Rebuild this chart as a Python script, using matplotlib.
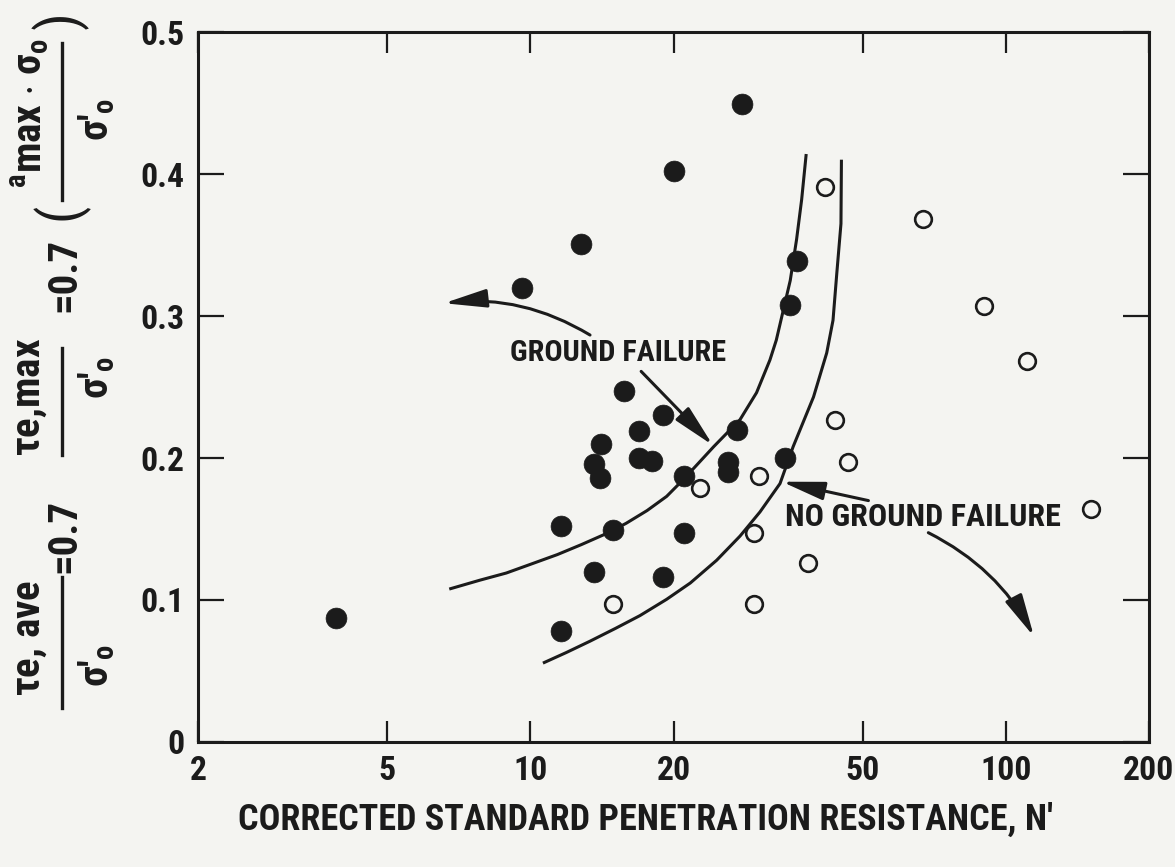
import matplotlib
matplotlib.use('Agg')
import matplotlib.pyplot as plt
import matplotlib.font_manager as fm
from matplotlib.patches import FancyArrowPatch
from matplotlib.lines import Line2D


def choose_font():
    entries = fm.fontManager.ttflist
    names = {e.name for e in entries}
    for p in ['Liberation Sans Narrow', 'Roboto Condensed', 'Open Sans Condensed',
              'Noto Sans Condensed', 'DejaVu Sans Condensed', 'Arial Narrow']:
        if p in names:
            return p, 'normal'
    for fam in ['DejaVu Sans', 'Noto Sans', 'Open Sans', 'Roboto', 'Liberation Sans']:
        for e in entries:
            if e.name == fam and str(e.stretch) in ('condensed', 'semi-condensed',
                                                    'extra-condensed'):
                return fam, str(e.stretch)
    return 'Roboto', 'normal'


FAM, STRETCH = choose_font()
plt.rcParams['font.family'] = [FAM, 'DejaVu Sans']
plt.rcParams['font.weight'] = 'bold'
plt.rcParams['font.stretch'] = STRETCH
pat = f'{FAM}:bold' + ('' if STRETCH == 'normal' else f':{STRETCH}')
plt.rcParams['mathtext.fontset'] = 'custom'
for k in ('rm', 'it', 'bf', 'sf'):
    plt.rcParams[f'mathtext.{k}'] = pat

INK = '#1b1b1b'
BG = '#f4f4f1'

# ---------------- data ----------------
failure_n = [3.9, 9.6, 12.8, 20.0, 27.9, 36.4, 35.2, 15.7, 19.0, 27.2, 16.9, 14.1, 13.6,
             14.0, 16.9, 18.0, 21.0, 26.0, 26.0, 34.3, 11.6, 14.9, 21.0, 13.6, 19.0, 11.6]
failure_ratio = [0.087, 0.320, 0.351, 0.402, 0.449, 0.339, 0.308, 0.247, 0.230, 0.220, 0.219,
                 0.210, 0.196, 0.186, 0.200, 0.198, 0.187, 0.197, 0.190, 0.200, 0.152, 0.149,
                 0.147, 0.120, 0.116, 0.078]

nofailure_n = [14.9, 22.7, 29.6, 29.6, 30.2, 38.4, 41.7, 43.7, 46.5, 66.9, 90.1, 111.0, 151.0]
nofailure_ratio = [0.097, 0.179, 0.147, 0.097, 0.187, 0.126, 0.391, 0.227, 0.197, 0.368,
                   0.307, 0.268, 0.164]

upper_n = [6.8, 7.84, 8.9, 9.98, 11.4, 12.8, 14.5, 15.9, 17.6, 19.35, 21.0, 24.3, 27.6, 29.9,
           31.9, 32.9, 35.2, 36.3, 37.2, 38.0]
upper_ratio = [0.108, 0.114, 0.119, 0.125, 0.132, 0.139, 0.147, 0.154, 0.163, 0.173, 0.185,
               0.208, 0.227, 0.246, 0.269, 0.283, 0.325, 0.354, 0.382, 0.413]

lower_n = [10.7, 11.9, 13.35, 15.1, 17.0, 19.35, 21.7, 24.65, 27.6, 30.4, 33.5, 35.7, 39.4,
           42.0, 43.3, 44.1, 45.0, 45.1]
lower_ratio = [0.056, 0.063, 0.071, 0.080, 0.089, 0.1005, 0.112, 0.128, 0.145, 0.162, 0.182,
               0.208, 0.243, 0.274, 0.297, 0.330, 0.365, 0.409]

x_ticks = [2, 5, 10, 20, 50, 100, 200]
x_tick_labels = ['2', '5', '10', '20', '50', '100', '200']
y_ticks = [0, 0.1, 0.2, 0.3, 0.4, 0.5]
y_tick_labels = ['0', '0.1', '0.2', '0.3', '0.4', '0.5']

label_failure = 'GROUND FAILURE'
label_nofailure = 'NO GROUND FAILURE'
x_label = "CORRECTED STANDARD PENETRATION RESISTANCE, N'"

# ---------------- figure ----------------
W, H = 1175, 867
fig = plt.figure(figsize=(W / 100, H / 100), dpi=100, facecolor=BG)
ax = fig.add_axes([198 / W, 1 - 742 / H, (1149 - 198) / W, (742 - 32) / H])
ax.set_facecolor(BG)
ax.set_xscale('log')
ax.set_xlim(2, 200)
ax.set_ylim(0, 0.5)

renderer = fig.canvas.get_renderer()


def fitted_size(s, target, base=20.0, use_height=False, **kw):
    t = fig.text(0, 0, s, fontsize=base, **kw)
    bb = t.get_window_extent(renderer)
    t.remove()
    cur = bb.height if use_height else bb.width
    return base * target / cur


tick_fs = fitted_size('200', 40) * 1.28

ax.plot(upper_n, upper_ratio, color=INK, lw=2.2, solid_joinstyle='round', zorder=2)
ax.plot(lower_n, lower_ratio, color=INK, lw=2.2, solid_joinstyle='round', zorder=2)

ax.plot(failure_n, failure_ratio, 'o', ms=15, mfc=INK, mec=INK, mew=0.5, ls='none', zorder=3)
ax.plot(nofailure_n, nofailure_ratio, 'o', ms=12, mfc=BG, mec=INK, mew=1.9, ls='none', zorder=3)

ax.set_xticks(x_ticks)
ax.set_xticklabels(x_tick_labels)
ax.xaxis.set_minor_locator(matplotlib.ticker.NullLocator())
ax.set_yticks(y_ticks)
ax.set_yticklabels(y_tick_labels)

for s in ax.spines.values():
    s.set_linewidth(2.2)
    s.set_color(INK)
ax.tick_params(axis='x', which='major', direction='in', length=15, width=1.6, color=INK,
               top=True, bottom=True, labelsize=tick_fs, pad=9, labelcolor=INK)
ax.tick_params(axis='y', which='major', direction='in', length=19, width=1.6, color=INK,
               left=True, right=True, labelsize=tick_fs, pad=10, labelcolor=INK)


# annotations
def arrow(p0, p1, rad):
    a = FancyArrowPatch(p0, p1, connectionstyle=f'arc3,rad={rad}',
                        arrowstyle='-|>,head_length=1.3,head_width=0.28',
                        mutation_scale=20, lw=2.2, color=INK, zorder=4,
                        shrinkA=0, shrinkB=0)
    ax.add_patch(a)


ax.text(15.3, 0.2736, label_failure, fontsize=fitted_size(label_failure, 200) * 1.08,
        ha='center', va='center', color=INK)
ax.text(66.8, 0.1588, label_nofailure, fontsize=fitted_size(label_nofailure, 255) * 1.08,
        ha='center', va='center', color=INK)
arrow((13.35, 0.2866), (6.58, 0.309), 0.17)
arrow((17.1, 0.261), (24.2, 0.209), 0.0)
arrow((51.4, 0.170), (33.8, 0.1833), 0.0)
arrow((68.7, 0.1474), (114.6, 0.0742), -0.16)

fig.text(646 / W, 1 - 820 / H, x_label, fontsize=fitted_size(x_label, 807) * 1.01,
         ha='center', va='center', color=INK)


# ---------------- composite y label ----------------
def ftext(px, py, s, size, **kw):
    fig.text(px / W, 1 - py / H, s, fontsize=size, rotation=90, ha='center', va='center',
             color=INK, **kw)


def fbar(px, py0, py1):
    fig.add_artist(Line2D([px / W, px / W], [1 - py0 / H, 1 - py1 / H], lw=2.4, color=INK,
                          transform=fig.transFigure))


num1 = r'$\tau$' + 'e, ave'
num2 = r'$\tau$' + 'e,max'
num3 = r'${}^{a}$max $\cdot$ $\sigma_{o}$'
den = "\u03c3\u2032$_{o}$"
S = fitted_size(num1, 117, use_height=True, rotation=90)

# part 1 : tau_e,ave / sigma'_o = 0.7
ftext(30, 638, num1, S)
fbar(62, 577, 708)
ftext(97, 666, den, S)
ftext(64, 536, '=0.7', S)

# part 2 : tau_e,max / sigma'_o = 0.7
ftext(30, 397, num2, S)
fbar(62, 348, 455)
ftext(97, 378, den, S)
ftext(64, 275, '=0.7', S)

# part 3 : ( a_max . sigma_o / sigma'_o )
ftext(30, 113, num3, S)
fbar(62, 43, 200)
ftext(97, 120, den, S)
ftext(60, 211, '(', 40, fontweight='normal')
ftext(60, 20, ')', 40, fontweight='normal')

fig.savefig('out.png', dpi=100, facecolor=BG)
